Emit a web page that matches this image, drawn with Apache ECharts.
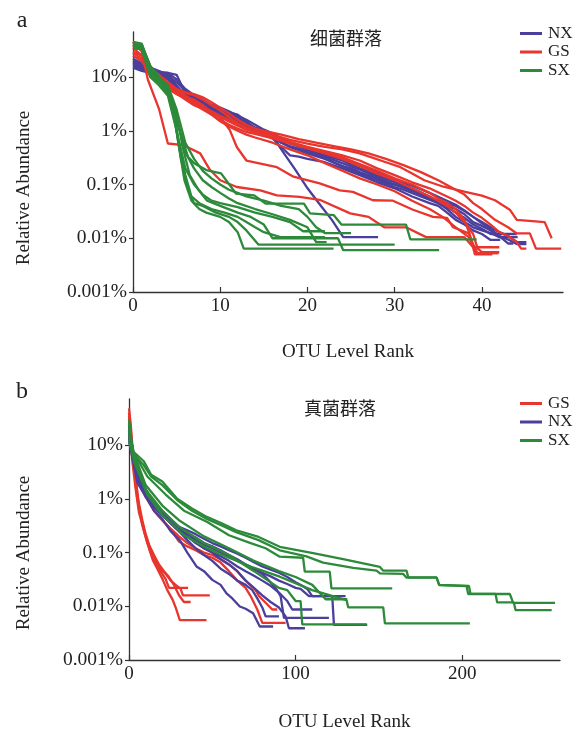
<!DOCTYPE html>
<html>
<head>
<meta charset="utf-8">
<script src="https://cdn.jsdelivr.net/npm/echarts@6/dist/echarts.min.js"></script>
<style>
  html, body { margin: 0; padding: 0; background: #fff; }
  #chart { width: 579px; height: 733px; }
</style>
</head>
<body>
<div id="chart"></div>
<script>
// Rank-abundance curves: each line is a list of [OTU rank, relative abundance %]

// Panel a: bacterial communities
const bactNX = [
  [[0,18],[1,16],[2,13],[3,12],[4,11.5],[5,7],[6,4.5],[7,3.8],[8,3.2],[9,2.6],[10,2.4],[11,2],[12,1.6],[13,1.3],[14,1.1],[15,0.95],[16,0.8],[17,0.45],[18.6,0.19],[19.9,0.09],[21.6,0.039],[22.8,0.022],[24.1,0.0105],[28.1,0.0105]],
  [[0,22],[1,18],[2,14],[3,12],[4,12],[5,11],[6,5],[7,4.2],[8,3.5],[9,3],[10,2.6],[11,2.2],[12,2],[13,1.5],[14,1.1],[15,0.95],[16,0.8],[17,0.62],[18,0.5],[19,0.45],[20,0.4],[21,0.35],[22,0.31],[23,0.26],[24,0.22],[25,0.2],[26,0.17],[27,0.15],[28,0.13],[29,0.11],[30,0.1],[31,0.09],[32,0.08],[33,0.065],[34,0.055],[35,0.045],[36,0.035],[37,0.025],[38,0.02],[39,0.016],[40,0.014],[41,0.0125],[42,0.0105],[44.1,0.0105]],
  [[0,16],[1,14],[2,12],[3,11],[4,10.5],[5,8],[6,5.5],[7,4.5],[8,3.5],[9,2.8],[10,2.3],[11,2.1],[12,1.8],[13,1.4],[14,1.15],[15,1],[16,0.85],[18,0.6],[20,0.45],[22,0.35],[24,0.28],[26,0.2],[28,0.15],[30,0.11],[32,0.085],[34,0.06],[36,0.04],[37,0.035],[38,0.028],[39,0.02],[40,0.017],[41,0.014],[42,0.011],[43,0.0095],[44,0.0078],[45.1,0.0078]],
  [[0,20],[1,17],[2,15],[3,13],[4,11],[5,6],[6,4.2],[7,3.6],[8,3],[9,2.6],[10,2.1],[11,1.7],[12,1.5],[13,1.3],[14,1.05],[15,0.9],[16,0.78],[17,0.6],[18,0.52],[20,0.42],[22,0.33],[24,0.25],[26,0.19],[28,0.14],[30,0.1],[32,0.075],[33,0.065],[35,0.05],[37,0.04],[38,0.032],[39,0.025],[40,0.02],[41,0.016],[42,0.013],[43,0.011],[44,0.0085],[45.1,0.0085]],
  [[0,15],[1,13],[2,12],[3,11],[4,9],[5,6.5],[6,4.8],[7,4],[8,3.2],[9,2.5],[10,2],[11,1.7],[12,1.4],[13,1.2],[14,1],[15,0.88],[16,0.72],[17,0.5],[18,0.35],[19,0.33],[20,0.3],[22,0.26],[24,0.2],[26,0.15],[28,0.11],[30,0.085],[32,0.06],[34,0.045],[35,0.04],[36,0.03],[37,0.022],[38,0.018],[39,0.014],[40,0.012],[41,0.0093],[42.1,0.0093]],
  [[0,19],[1,16],[2,13],[3,12.5],[4,12],[5,9],[6,6],[7,4.6],[8,3.8],[9,3],[10,2.7],[11,2.3],[12,1.9],[13,1.6],[14,1.3],[15,1.05],[16,0.9],[17,0.72],[18,0.58],[20,0.46],[22,0.37],[24,0.3],[26,0.23],[28,0.17],[30,0.12],[32,0.095],[34,0.07],[36,0.05],[37,0.042],[38,0.033],[39,0.025],[40,0.019],[41,0.015],[42,0.011],[43,0.008],[43.6,0.008]],
  [[0,17],[1,15],[2,12],[3,11.5],[4,10],[5,5],[6,4],[7,3.4],[8,2.9],[9,2.4],[10,2.1],[11,1.8],[12,1.6],[13,1.3],[14,1.1],[15,0.92],[16,0.74],[17,0.6],[18,0.5],[20,0.38],[22,0.3],[24,0.22],[26,0.16],[28,0.12],[30,0.09],[31,0.08],[33,0.06],[35,0.045],[36,0.038],[37,0.03],[38,0.024],[39,0.018],[40,0.015],[41,0.012],[44,0.012]]
];
const bactGS = [
  [[0,45],[1,30],[1.7,9],[3,2.5],[4,0.58],[5.8,0.54],[7.7,0.38],[8.8,0.19],[10,0.12],[11.9,0.09],[14.6,0.078],[16.5,0.063],[19.1,0.059],[21.4,0.052],[24.9,0.029],[27,0.025],[28.8,0.016],[31.3,0.016],[33.6,0.0105],[38,0.0105],[39,0.0068],[42,0.0068]],
  [[0,35],[1,25],[2,10],[3,8],[4,6],[5,5],[6,3.8],[7,3],[8.4,2.4],[10,1.8],[11.1,1.03],[11.9,0.5],[13,0.28],[16.5,0.21],[18.4,0.14],[21.4,0.105],[23.7,0.078],[25.2,0.073],[27.5,0.051],[29.8,0.05],[32.1,0.034],[34.4,0.025],[36,0.024],[36.7,0.016],[38.5,0.0123],[39.4,0.0053],[41.9,0.0053]],
  [[0,30],[1,25],[2,13],[3,9],[4,7],[5,5.5],[6,5],[7,4.6],[8,3.8],[9,3],[10,2.4],[11,1.8],[12,1.4],[13,1.15],[14,1],[16,0.85],[18,0.68],[20,0.58],[22,0.5],[24,0.45],[26,0.38],[27.1,0.33],[29,0.26],[30.5,0.216],[32,0.16],[33.4,0.12],[35.6,0.091],[38.1,0.073],[40,0.062],[41.5,0.051],[43.2,0.034],[44,0.022],[47.2,0.02],[48,0.01]],
  [[0,40],[1,33],[2,14],[3,10],[4,7.5],[5,5.2],[6,4.3],[7,3.8],[8,3],[9,2.2],[10,1.8],[11,1.5],[12,1.25],[13,1.05],[14,0.95],[16,0.8],[18,0.62],[20,0.5],[22,0.42],[24,0.35],[26,0.28],[28,0.2],[30,0.15],[32,0.11],[34,0.085],[36,0.06],[37,0.05],[38,0.04],[39,0.03],[40,0.024],[41,0.018],[42,0.013],[43,0.011],[44,0.0085],[44.5,0.0064],[45.1,0.0064]],
  [[0,28],[1,22],[2,12],[3,8.5],[4,6.5],[5,5],[6,4],[7,3.3],[8,2.6],[9,2],[10,1.6],[11,1.3],[12,1.1],[13,0.95],[14,0.88],[16,0.72],[18,0.58],[20,0.47],[22,0.38],[24,0.3],[26,0.22],[28,0.16],[30,0.12],[32,0.085],[34,0.06],[35,0.05],[36,0.04],[37,0.03],[38,0.02],[39,0.012],[39.5,0.0065],[40,0.0055],[42,0.0055]],
  [[0,45],[1,38],[2,16],[3,10],[4,7],[5,5.5],[6,4.5],[7,3.5],[8,2.8],[9,2.3],[10,1.9],[11,1.6],[12,1.3],[13,1.1],[14,0.95],[16,0.78],[18,0.6],[20,0.48],[22,0.4],[24,0.32],[26,0.24],[28,0.18],[30,0.13],[32,0.1],[34,0.07],[35,0.055],[36,0.045],[37,0.035],[38,0.022],[38.6,0.012],[39.2,0.005],[41.2,0.005]],
  [[0,38],[1,32],[2,15],[3,11],[4,8],[5,6],[6,5.2],[7,4.8],[8,4.2],[9,3.4],[10,2.7],[11,2.1],[12,1.6],[13,1.3],[14,1.1],[15,1],[17,0.85],[19,0.7],[21,0.6],[23,0.52],[25,0.45],[27,0.38],[29,0.3],[31,0.23],[33,0.17],[35,0.12],[37,0.08],[38,0.065],[39,0.045],[40,0.035],[41.5,0.022],[43,0.016],[44,0.0123],[45.5,0.0123],[46.2,0.0064],[49.1,0.0064]],
  [[0,25],[1,20],[2,11],[3,8],[4,6.2],[5,4.8],[6,4],[7,3.2],[8,2.5],[9,2],[10,1.5],[11,1.2],[12,1],[13,0.85],[14,0.75],[16,0.6],[18,0.45],[20,0.35],[22,0.25],[24,0.18],[26,0.13],[28,0.1],[30,0.075],[32,0.05],[34,0.035],[35.5,0.025],[37,0.016],[38.5,0.0105],[39.5,0.0053],[41.9,0.0053]]
];
const bactSX = [
  [[0,42],[1,40],[2,14],[3,9],[4,6],[4.6,3],[5.2,0.6],[5.9,0.12],[6.7,0.05],[7.6,0.035],[8.4,0.03],[10,0.025],[11,0.02],[12,0.013],[12.7,0.0064],[23,0.0064]],
  [[0,38],[1,36],[2,11],[3,8],[4,5],[4.8,1.5],[5.5,0.3],[6.3,0.08],[7,0.045],[8,0.04],[9.5,0.03],[11,0.025],[12,0.02],[13,0.014],[14.4,0.0076],[30,0.0076]],
  [[0,44],[1,40],[2,16],[3,10],[4,6.5],[5,2],[5.7,0.5],[6.5,0.15],[7.5,0.08],[8.5,0.05],[10,0.04],[12,0.03],[13.5,0.025],[15,0.018],[16,0.01],[23.5,0.01],[24.1,0.006],[35.1,0.006]],
  [[0,40],[1,38],[2,13],[3,9.5],[4,6],[5,1.5],[5.8,0.6],[6.3,0.33],[7,0.25],[8.4,0.186],[10.1,0.161],[11.8,0.068],[13.9,0.063],[15.2,0.044],[19.6,0.044],[20.3,0.029],[23,0.027],[23.9,0.018],[31.3,0.018],[31.8,0.0095],[39.4,0.0095]],
  [[0,36],[1,34],[2,12],[3,8],[4,5.5],[5,1.8],[6,0.4],[7,0.2],[8,0.12],[9,0.09],[10,0.07],[11,0.055],[12,0.045],[14,0.035],[16,0.028],[18,0.022],[20,0.016],[21,0.0085],[22.2,0.0085]],
  [[0,45],[1,42],[2,15],[3,10],[4,7],[5,2.5],[6,0.6],[7,0.3],[8,0.18],[9,0.13],[10,0.1],[11,0.08],[12,0.07],[13,0.06],[15,0.05],[17,0.04],[19,0.035],[20,0.025],[21,0.016],[22,0.0125],[25,0.0125]],
  [[0,40],[1,37],[2,12],[3,8.5],[4,5.2],[4.7,2.2],[5.3,0.5],[6,0.15],[6.7,0.06],[7.6,0.045],[9,0.035],[10.5,0.03],[12,0.025],[13,0.02],[14,0.016],[15,0.013],[16.9,0.0105],[22,0.0105]],
  [[0,34],[1,33],[2,10],[3,7],[4,4.5],[5,1],[6,0.2],[7,0.1],[8,0.065],[9,0.05],[10,0.045],[12,0.038],[14,0.03],[16,0.025],[18,0.02],[19.5,0.0135],[22,0.0135]]
];

// Panel b: fungal communities
const fungGS = [
  [[0,48],[1,25],[2,10],[3.5,3.9],[5.4,0.95],[7,0.5],[9.4,0.23],[12,0.12],[14.3,0.072],[17,0.05],[20.3,0.031],[23,0.02],[26.3,0.013],[28,0.0095],[30.5,0.0055],[46.5,0.0055]],
  [[0,40],[1,20],[2,8],[4,2.2],[6,0.8],[8,0.4],[10,0.22],[13,0.11],[16,0.07],[19,0.05],[22,0.04],[25,0.03],[28,0.025],[31,0.021],[32.4,0.016],[48.5,0.016]],
  [[0,30],[1,16],[2,7],[4,1.8],[6,0.65],[8,0.32],[11,0.15],[14,0.085],[17,0.055],[20,0.04],[22,0.032],[24,0.022],[35.5,0.022]],
  [[0,22],[1,12],[2,5],[4,1.5],[6,0.55],[9,0.26],[12,0.14],[15,0.09],[18,0.06],[21,0.045],[24,0.035],[27,0.025],[30,0.016],[33,0.012],[37,0.012]],
  [[0,35],[1,15],[2,8],[5,3],[10,1.2],[15,0.6],[20,0.4],[25,0.27],[30,0.16],[35,0.13],[40,0.11],[45,0.09],[50,0.08],[55,0.065],[60,0.045],[65,0.03],[70,0.022],[73,0.0155],[77,0.0087],[80,0.0049],[94,0.0049]],
  [[0,25],[1,12],[2,7],[5,2.4],[10,1.1],[15,0.6],[20,0.4],[25,0.28],[30,0.2],[35,0.15],[40,0.12],[45,0.1],[50,0.09],[55,0.075],[60,0.06],[65,0.045],[68,0.035],[72,0.026],[76,0.02],[78,0.0155],[82,0.0116],[86,0.0087],[89,0.0087]]
];
const fungNX = [
  [[0,14],[2,6],[5,2.2],[10,1.1],[15,0.6],[20,0.42],[25,0.25],[30.5,0.17],[35,0.1],[40.5,0.055],[45,0.045],[50,0.031],[55,0.025],[58.5,0.0173],[62,0.014],[66.5,0.0099],[70,0.009],[74.5,0.0074],[78.5,0.0042],[86.5,0.0042]],
  [[0,18],[2,7],[5,2.8],[10,1.3],[15,0.75],[20,0.5],[25,0.35],[30,0.25],[35,0.2],[40,0.15],[45,0.12],[50,0.1],[55,0.075],[60,0.06],[65,0.045],[70,0.03],[75,0.022],[80,0.016],[85,0.012],[90,0.0095],[94,0.0065],[96,0.0039],[105.6,0.0039]],
  [[0,12],[2,6],[5,2],[10,1.1],[15,0.7],[20,0.48],[25,0.36],[30,0.28],[35,0.22],[40,0.19],[45,0.15],[50,0.13],[55,0.11],[60,0.09],[65,0.075],[70,0.06],[75,0.05],[80,0.04],[84,0.03],[88,0.022],[91,0.0155],[93,0.0061],[120,0.0061]],
  [[0,16],[2,7],[5,2.6],[10,1.4],[15,0.8],[20,0.55],[25,0.4],[30,0.3],[35,0.26],[40,0.22],[45,0.18],[50,0.15],[55,0.13],[60,0.11],[65,0.095],[70,0.08],[75,0.066],[80,0.055],[85,0.048],[90,0.042],[95,0.035],[100,0.028],[104,0.024],[107,0.021],[110,0.0155],[122,0.0155],[123,0.0045],[143,0.0045]],
  [[0,20],[2,9],[5,3],[10,1.5],[15,0.85],[20,0.6],[25,0.42],[30,0.3],[35,0.23],[40,0.17],[45,0.14],[50,0.12],[55,0.1],[60,0.085],[65,0.07],[70,0.06],[75,0.05],[80,0.042],[85,0.036],[90,0.03],[95,0.026],[100,0.022],[103,0.021],[108,0.0155],[130,0.0155]],
  [[0,22],[2,9],[5,3],[10,1.5],[15,0.8],[20,0.55],[25,0.35],[30,0.25],[35,0.17],[40,0.12],[45,0.09],[50,0.07],[55,0.05],[60,0.04],[65,0.03],[70,0.025],[74,0.02],[77,0.014],[80,0.0095],[82,0.0065],[90,0.0065]],
  [[0,15],[2,7],[5,2.5],[10,1.25],[15,0.7],[20,0.5],[25,0.36],[30,0.28],[35,0.2],[40,0.16],[45,0.12],[50,0.1],[55,0.085],[60,0.07],[65,0.055],[70,0.045],[75,0.037],[80,0.03],[85,0.024],[90,0.018],[95,0.0125],[98,0.0087],[110,0.0087]]
];
const fungSX = [
  [[0,30],[2.2,7.7],[8.9,5],[13.3,2.8],[20,2.1],[28.9,1],[37.8,0.66],[46.7,0.46],[55.6,0.35],[64.4,0.26],[77.8,0.195],[90.5,0.128],[110.5,0.097],[128.5,0.075],[150.6,0.054],[152.6,0.046],[166.6,0.046],[167.6,0.0345],[184.6,0.0345],[186.2,0.0248],[202.6,0.0238],[203.6,0.0169],[228.6,0.0169],[230.6,0.0116],[255.7,0.0116]],
  [[0,25],[2.2,7],[8.9,4.2],[13.3,2.6],[20,1.8],[28.9,0.95],[37.8,0.6],[46.7,0.42],[55.6,0.32],[64.4,0.24],[77.8,0.17],[90.5,0.11],[106.5,0.085],[116.5,0.065],[134.6,0.052],[148.6,0.046],[150.6,0.041],[164.6,0.04],[166.6,0.034],[184.6,0.034],[186.2,0.025],[204,0.024],[205,0.017],[220,0.017],[221,0.0118],[231,0.0118],[232,0.0085],[253.7,0.0085]],
  [[0,18],[2,8],[11,2.6],[22,1.2],[33,0.6],[47,0.37],[60,0.21],[73,0.15],[82,0.12],[90.5,0.0836],[104.5,0.08],[105.5,0.044],[120.5,0.044],[121.5,0.0215],[158,0.0215]],
  [[0,12],[3,5],[11,1.2],[20,0.5],[33,0.21],[47,0.12],[60,0.08],[73,0.055],[90.5,0.0355],[110,0.02],[130.6,0.013],[131.6,0.0095],[152.6,0.0095],[153.6,0.0048],[204.6,0.0048]],
  [[0,15],[3,6],[10,1.5],[20,0.6],[30,0.3],[45,0.15],[60,0.09],[75,0.045],[90,0.022],[95,0.02],[100,0.0125],[103,0.0125],[104,0.0046],[142.7,0.0046]],
  [[0,20],[3,7],[10,1.8],[20,0.75],[30,0.4],[45,0.2],[60,0.12],[75,0.07],[90,0.045],[100,0.035],[110,0.025],[118,0.0135],[131,0.0135]]
];

// Axis ticks and labels
const xTicksA = [0, 10, 20, 30, 40];
const xTicksB = [0, 100, 200];
const yTicks = [0.001, 0.01, 0.1, 1, 10];
const yTickLabels = ['0.001%', '0.01%', '0.1%', '1%', '10%'];

const colors = { NX: '#4b3f9c', GS: '#e8352e', SX: '#2c8a3a' };
const serif = "'Liberation Serif', 'DejaVu Serif', serif";
const cjk = "'Noto Sans CJK SC', sans-serif";
const ink = '#222222';

function buildSeries(groups, idx) {
  const out = [];
  groups.forEach(([name, lines]) => {
    lines.forEach(line => {
      out.push({
        type: 'line', name, data: line,
        xAxisIndex: idx, yAxisIndex: idx,
        symbol: 'none', showSymbol: false, silent: true,
        lineStyle: { width: 2.3, color: colors[name] },
        itemStyle: { color: colors[name] },
        animation: false
      });
    });
  });
  return out;
}

function xAxisCfg(idx, max, ticks, gap) {
  return {
    gridIndex: idx, type: 'value', min: 0, max,
    axisLine: { show: true, lineStyle: { color: '#333', width: 1.3 } },
    axisTick: { show: true, inside: true, length: 5, customValues: ticks, lineStyle: { color: '#333', width: 1.2 } },
    axisLabel: { customValues: ticks, margin: 5, fontFamily: serif, fontSize: 19, color: ink },
    splitLine: { show: false },
    name: 'OTU Level Rank', nameLocation: 'middle', nameGap: gap,
    nameTextStyle: { fontFamily: serif, fontSize: 19, color: ink }
  };
}

function yAxisCfg(idx, max) {
  return {
    gridIndex: idx, type: 'log', logBase: 10, min: 0.001, max,
    axisLine: { show: true, lineStyle: { color: '#333', width: 1.3 } },
    axisTick: { show: true, inside: false, length: 4, customValues: yTicks, lineStyle: { color: '#333', width: 1.2 } },
    axisLabel: {
      customValues: yTicks, margin: 6, fontFamily: serif, fontSize: 19.5, color: ink,
      formatter: v => {
        const k = Math.round(Math.log10(v)) + 3;
        return yTickLabels[k] !== undefined ? yTickLabels[k] : '';
      }
    },
    splitLine: { show: false }
  };
}

function legendCfg(top, names) {
  return {
    orient: 'vertical', left: 520, top, padding: 0,
    data: names, icon: 'rect', itemWidth: 22, itemHeight: 3, itemGap: 1.5,
    selectedMode: false,
    textStyle: { fontFamily: serif, fontSize: 17, color: ink, padding: [0, 0, 0, 1] }
  };
}

function label(x, y, text, font, rotation) {
  return {
    type: 'text', x, y, rotation: rotation || 0, silent: true,
    style: { text, font, fill: ink, align: 'center', verticalAlign: 'middle' }
  };
}

const chart = echarts.init(document.getElementById('chart'), null, { renderer: 'canvas' });
chart.setOption({
  backgroundColor: '#ffffff',
  animation: false,
  grid: [
    { left: 133, top: 32, width: 430, height: 260 },
    { left: 129, top: 399, width: 431, height: 261 }
  ],
  xAxis: [xAxisCfg(0, 49.3, xTicksA, 51), xAxisCfg(1, 258.7, xTicksB, 53)],
  yAxis: [yAxisCfg(0, 69), yAxisCfg(1, 72)],
  legend: [legendCfg(25, ['NX', 'GS', 'SX']), legendCfg(395, ['GS', 'NX', 'SX'])],
  graphic: [
    label(22, 21, 'a', '24px ' + serif),
    label(22, 392, 'b', '24px ' + serif),
    label(346, 38, '细菌群落', '18px ' + cjk),
    label(340, 408, '真菌群落', '18px ' + cjk),
    label(24, 188, 'Relative Abundance', '19px ' + serif, Math.PI / 2),
    label(24, 553, 'Relative Abundance', '19px ' + serif, Math.PI / 2)
  ],
  series: [
    ...buildSeries([['NX', bactNX], ['GS', bactGS], ['SX', bactSX]], 0),
    ...buildSeries([['GS', fungGS], ['NX', fungNX], ['SX', fungSX]], 1)
  ]
});
</script>
</body>
</html>
